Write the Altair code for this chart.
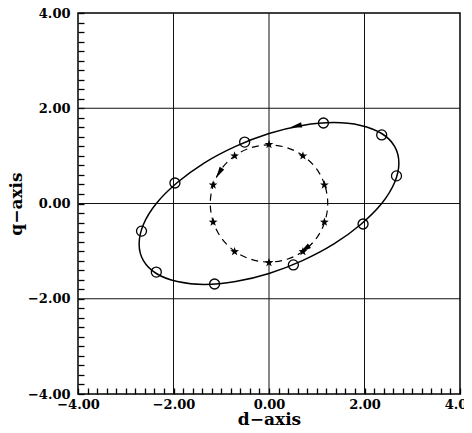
import altair as alt
import pandas as pd

# Solid elliptical trajectory (d, q)
ell_x = [2.72, 2.63, 2.36, 1.92, 1.36, 0.70, 0.00, -0.70, -1.36, -1.92, -2.36, -2.63,
         -2.72, -2.63, -2.36, -1.92, -1.36, -0.70, 0.00, 0.70, 1.36, 1.92, 2.36, 2.63]
ell_y = [0.85, 1.20, 1.47, 1.64, 1.70, 1.64, 1.47, 1.20, 0.85, 0.44, 0.00, -0.44,
         -0.85, -1.20, -1.47, -1.64, -1.70, -1.64, -1.47, -1.20, -0.85, -0.44, 0.00, 0.44]

# Open-circle markers on the ellipse
circ_x = [1.14, 2.36, 2.67, 1.97, 0.51, -1.14, -2.36, -2.67, -1.97, -0.51]
circ_y = [1.69, 1.44, 0.58, -0.43, -1.29, -1.69, -1.44, -0.58, 0.43, 1.29]

# Dashed circular trajectory
dc_x = [1.23, 1.17, 1.00, 0.72, 0.38, 0.00, -0.38, -0.72, -1.00, -1.17,
        -1.23, -1.17, -1.00, -0.72, -0.38, 0.00, 0.38, 0.72, 1.00, 1.17]
dc_y = [0.00, 0.38, 0.72, 1.00, 1.17, 1.23, 1.17, 1.00, 0.72, 0.38,
        0.00, -0.38, -0.72, -1.00, -1.17, -1.23, -1.17, -1.00, -0.72, -0.38]

# Star markers on the dashed circle
star_x = [1.16, 0.71, 0.00, -0.72, -1.17, -1.17, -0.72, 0.00, 0.71, 1.16]
star_y = [0.39, 1.00, 1.24, 1.00, 0.39, -0.39, -1.01, -1.24, -1.01, -0.39]

# Direction arrowheads
arr_x = [0.58, -1.04, 0.76]
arr_y = [1.63, 0.65, -0.95]
arr_angle = [258, 211, 234]

# Axes: labelled every 2.00, minor ticks every 0.20
grid_vals = [-2, 0, 2]
tick_vals = [-4.0, -3.8, -3.6, -3.4, -3.2, -3.0, -2.8, -2.6, -2.4, -2.2, -2.0,
             -1.8, -1.6, -1.4, -1.2, -1.0, -0.8, -0.6, -0.4, -0.2, 0.0,
             0.2, 0.4, 0.6, 0.8, 1.0, 1.2, 1.4, 1.6, 1.8, 2.0,
             2.2, 2.4, 2.6, 2.8, 3.0, 3.2, 3.4, 3.6, 3.8, 4.0]
LABEL_EXPR = "abs(datum.value % 2) < 0.001 ? format(datum.value, '.2f') : ''"

FONT = "DejaVu Serif"
scale = alt.Scale(domain=[-4, 4], nice=False, zero=False)
TICK = 6  # inward tick length (axis shifted inside by the same amount)


def X(field="x"):
    return alt.X(f"{field}:Q", scale=scale,
                 axis=alt.Axis(values=tick_vals, labelExpr=LABEL_EXPR, title="d−axis",
                               ticks=True, tickSize=TICK, offset=-TICK,
                               labelPadding=4, titleBaseline="alphabetic",
                               titleY=30 + TICK))


def Y(field="y"):
    return alt.Y(f"{field}:Q", scale=scale,
                 axis=alt.Axis(values=tick_vals, labelExpr=LABEL_EXPR, title="q−axis",
                               ticks=True, tickSize=TICK, offset=-TICK,
                               labelPadding=8, titlePadding=2))


ell_df = pd.DataFrame({"x": ell_x, "y": ell_y, "o": list(range(len(ell_x)))})
circ_df = pd.DataFrame({"x": circ_x, "y": circ_y})
dc_df = pd.DataFrame({"x": dc_x, "y": dc_y, "o": list(range(len(dc_x)))})
star_df = pd.DataFrame({"x": star_x, "y": star_y})
arr_df = pd.DataFrame({"x": arr_x, "y": arr_y, "a": arr_angle})
vgrid_df = pd.DataFrame({"x": grid_vals})
hgrid_df = pd.DataFrame({"y": grid_vals})

vgrid = alt.Chart(vgrid_df).mark_rule(color="#111", strokeWidth=1).encode(x=X())
hgrid = alt.Chart(hgrid_df).mark_rule(color="#111", strokeWidth=1).encode(y=Y())

ellipse = alt.Chart(ell_df).mark_line(
    interpolate="cardinal-closed", color="black", strokeWidth=1.5
).encode(x=X(), y=Y(), order="o:Q")

dashed = alt.Chart(dc_df).mark_line(
    interpolate="cardinal-closed", color="black", strokeWidth=1.2, strokeDash=[7, 5]
).encode(x=X(), y=Y(), order="o:Q")

circles = alt.Chart(circ_df).mark_point(
    shape="circle", size=100, filled=False, color="black", strokeWidth=1.3, opacity=1
).encode(x=X(), y=Y())

STAR = ("M0,-1L0.235,-0.324L0.951,-0.309L0.38,0.124L0.588,0.809L0,0.4"
        "L-0.588,0.809L-0.38,0.124L-0.951,-0.309L-0.235,-0.324Z")
stars = alt.Chart(star_df).mark_point(
    shape=STAR, size=85, filled=True, color="black", opacity=1
).encode(x=X(), y=Y())

ARROW = "M0,-1L0.42,0.8L-0.42,0.8Z"
arrows = alt.Chart(arr_df).mark_point(
    shape=ARROW, size=160, filled=True, color="black", opacity=1
).encode(x=X(), y=Y(), angle=alt.Angle("a:Q", scale=None))

chart = alt.layer(
    vgrid, hgrid, ellipse, dashed, circles, stars, arrows
).properties(
    width=382, height=381,
    autosize=alt.AutoSizeParams(type="none"),
    padding={"left": 70, "top": 5, "right": 4, "bottom": 31},
    background="white",
).configure_view(
    stroke="black", strokeWidth=1.5
).configure_axis(
    grid=False, domain=False, labelFlush=False, labelOverlap=False,
    tickColor="black", tickWidth=1.3, zindex=1,
    labelFont=FONT, labelFontWeight="bold", labelFontSize=13, labelColor="black",
    titleFont=FONT, titleFontWeight="bold", titleFontSize=17, titleColor="black",
)

chart.save("out.html", embed_options={"renderer": "svg", "actions": False})
